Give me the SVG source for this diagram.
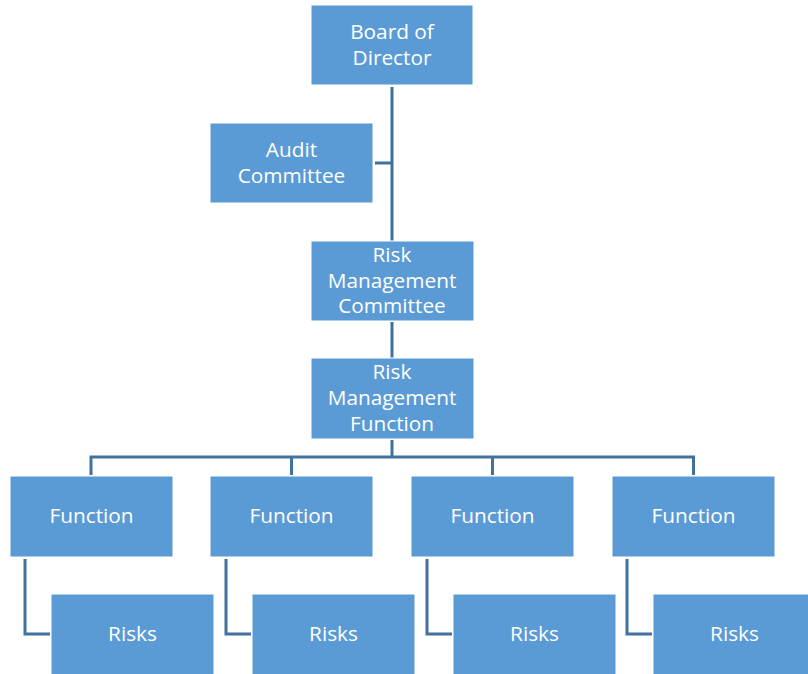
<svg xmlns="http://www.w3.org/2000/svg" width="808" height="674" viewBox="0 0 808 674">
<style>
.box{fill:#5B9BD5;stroke:#ffffff;stroke-width:1}
.t{font-family:"Open Sans","Liberation Sans",sans-serif;font-size:20.8px;fill:#ffffff;text-anchor:middle}
.c{fill:none;stroke:#41719C;stroke-width:3}
</style>
<rect width="808" height="674" fill="#ffffff"/>
<g id="connectors">
<path class="c" d="M392 87V241"/>
<path class="c" d="M375 163H392"/>
<path class="c" d="M392 322V358"/>
<path class="c" d="M392 440V457"/>
<path class="c" d="M91 475V457H693.5V475"/>
<path class="c" d="M291.5 457V475M492.5 457V475"/>
<path class="c" d="M25 559V634H50"/>
<path class="c" d="M226 559V634H251"/>
<path class="c" d="M427 559V634H452"/>
<path class="c" d="M627 559V634H652"/>
</g>
<g id="board"><rect class="box" x="311" y="5" width="162" height="80"/><text class="t" x="392" y="39">Board of</text><text class="t" x="392" y="65">Director</text></g>
<g id="audit"><rect class="box" x="210" y="123" width="163" height="80"/><text class="t" x="291.5" y="157">Audit</text><text class="t" x="291.5" y="183">Committee</text></g>
<g id="rmc"><rect class="box" x="311" y="241" width="163" height="80"/><text class="t" x="392" y="262">Risk</text><text class="t" x="392" y="288">Management</text><text class="t" x="392" y="313">Committee</text></g>
<g id="rmf"><rect class="box" x="311" y="358" width="163" height="81"/><text class="t" x="392" y="379">Risk</text><text class="t" x="392" y="405">Management</text><text class="t" x="392" y="431">Function</text></g>
<g id="f1"><rect class="box" x="10" y="476" width="163" height="81"/><text class="t" x="91.5" y="523">Function</text></g>
<g id="f2"><rect class="box" x="210" y="476" width="163" height="81"/><text class="t" x="291.5" y="523">Function</text></g>
<g id="f3"><rect class="box" x="411" y="476" width="163" height="81"/><text class="t" x="492.5" y="523">Function</text></g>
<g id="f4"><rect class="box" x="612" y="476" width="163" height="81"/><text class="t" x="693.5" y="523">Function</text></g>
<g id="r1"><rect class="box" x="51" y="594" width="163" height="82"/><text class="t" x="132.5" y="641">Risks</text></g>
<g id="r2"><rect class="box" x="252" y="594" width="163" height="82"/><text class="t" x="333.5" y="641">Risks</text></g>
<g id="r3"><rect class="box" x="453" y="594" width="163" height="82"/><text class="t" x="534.5" y="641">Risks</text></g>
<g id="r4"><rect class="box" x="653" y="594" width="163" height="82"/><text class="t" x="734.5" y="641">Risks</text></g>
</svg>
